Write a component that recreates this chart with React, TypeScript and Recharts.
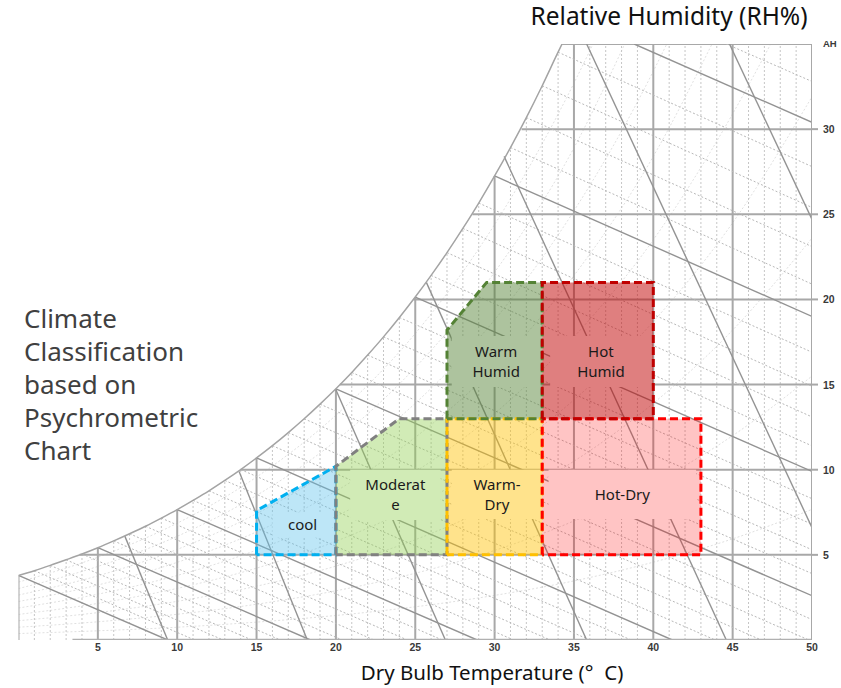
import type { ReactNode } from 'react'
import { ComposedChart, Line, Area, XAxis, YAxis, ReferenceArea } from 'recharts'

// ── Axis ticks ────────────────────────────────────────────────
const T_TICKS = [5, 10, 15, 20, 25, 30, 35, 40, 45, 50]
const AH_TICKS = [5, 10, 15, 20, 25, 30, 35]

// ── Saturation curve (100% RH), dry bulb °C → AH g/kg ─────────
const SAT_T = [0, 1, 2, 3, 4, 5, 6, 7, 8, 9, 10, 11, 12, 13, 14, 15, 16, 17, 18, 19, 20, 21, 22, 23, 24, 25, 26, 27, 28, 29, 30, 31, 32, 33, 34, 34.25]
const SAT_AH = [3.79, 4.07, 4.38, 4.71, 5.05, 5.42, 5.82, 6.24, 6.68, 7.16, 7.66, 8.2, 8.76, 9.37, 10.01, 10.69, 11.41, 12.18, 12.99, 13.85, 14.75, 15.71, 16.73, 17.8, 18.94, 20.14, 21.41, 22.75, 24.17, 25.66, 27.25, 28.92, 30.68, 32.55, 34.52, 35]

// ── Horizontal AH lines (start on the saturation curve) ───────
const H_AH = [5, 10, 15, 20, 25, 30, 35]
const H_START_T = [3.85, 14.0, 20.25, 24.9, 28.6, 31.7, 34.25]

// ── Wet bulb lines [t1, ah1, t2, ah2], one per °C ─────────────
const WB_LINES = [
  [0, 3.79, 9.4, 0], [1, 4.07, 11.1, 0], [2, 4.38, 12.9, 0], [3, 4.71, 14.7, 0], [4, 5.05, 16.5, 0],
  [5, 5.42, 18.4, 0], [6, 5.82, 20.4, 0], [7, 6.24, 22.4, 0], [8, 6.68, 24.5, 0], [9, 7.16, 26.7, 0],
  [10, 7.66, 28.9, 0], [11, 8.2, 31.2, 0], [12, 8.76, 33.5, 0], [13, 9.37, 36.0, 0], [14, 10.01, 38.6, 0],
  [15, 10.69, 41.2, 0], [16, 11.41, 43.9, 0], [17, 12.18, 46.8, 0], [18, 12.99, 49.8, 0], [19, 13.85, 50, 1.2],
  [20, 14.75, 50, 2.6], [21, 15.71, 50, 3.9], [22, 16.73, 50, 5.3], [23, 17.8, 50, 6.8], [24, 18.94, 50, 8.3],
  [25, 20.14, 50, 9.9], [26, 21.41, 50, 11.4], [27, 22.75, 50, 13.1], [28, 24.17, 50, 14.9], [29, 25.66, 50, 16.9],
  [30, 27.25, 50, 19.0], [31, 28.92, 50, 20.9], [32, 30.68, 50, 23.1], [33, 32.55, 50, 25.4], [34, 34.52, 50, 27.8],
  [38.8, 35, 50, 30.4], [44.6, 35, 50, 32.8],
]
const WB_TEMPS = [0, 1, 2, 3, 4, 5, 6, 7, 8, 9, 10, 11, 12, 13, 14, 15, 16, 17, 18, 19, 20, 21, 22, 23, 24, 25, 26, 27, 28, 29, 30, 31, 32, 33, 34, 35, 36]

// ── Specific volume lines (steep) [t1, ah1, t2, ah2] ──────────
const VOL_LINES = [
  [6.7, 6.1, 9.4, 0],
  [13.9, 9.9, 18.2, 0],
  [20.0, 14.7, 26.9, 0],
  [25.7, 21.0, 35.8, 0],
  [30.6, 28.4, 44.6, 0],
  [35.8, 35, 50, 6.6],
  [44.8, 35, 50, 24.7],
]

// ── Relative humidity curves 10% … 90% ────────────────────────
const RH_CURVES = [
  [[0, 0.38], [5, 0.54], [10, 0.75], [15, 1.05], [20, 1.44], [25, 1.95], [30, 2.62], [35, 3.47], [40, 4.57], [45, 5.94], [50, 7.67]],
  [[0, 0.75], [5, 1.07], [10, 1.51], [15, 2.1], [20, 2.89], [25, 3.92], [30, 5.26], [35, 6.99], [40, 9.2], [45, 12.0], [50, 15.5]],
  [[0, 1.13], [5, 1.61], [10, 2.27], [15, 3.16], [20, 4.34], [25, 5.89], [30, 7.92], [35, 10.5], [40, 13.9], [45, 18.2], [50, 23.6]],
  [[0, 1.5], [5, 2.15], [10, 3.03], [15, 4.22], [20, 5.8], [25, 7.88], [30, 10.6], [35, 14.1], [40, 18.7], [45, 24.5], [50, 31.9]],
  [[0, 1.88], [5, 2.69], [10, 3.79], [15, 5.28], [20, 7.26], [25, 9.88], [30, 13.3], [35, 17.8], [40, 23.5], [45, 30.9], [47.4, 35]],
  [[0, 2.26], [5, 3.23], [10, 4.56], [15, 6.35], [20, 8.74], [25, 11.9], [30, 16.0], [35, 21.4], [40, 28.4], [43.7, 35]],
  [[0, 2.64], [5, 3.77], [10, 5.32], [15, 7.42], [20, 10.2], [25, 13.9], [30, 18.8], [35, 25.2], [40, 33.4], [40.85, 35]],
  [[0, 3.02], [5, 4.32], [10, 6.09], [15, 8.49], [20, 11.7], [25, 16.0], [30, 21.6], [35, 28.9], [38.2, 35]],
  [[0, 3.4], [5, 4.86], [10, 6.86], [15, 9.57], [20, 13.2], [25, 18.0], [30, 24.4], [35, 32.7], [36.2, 35]],
]

// ── Climate zones ─────────────────────────────────────────────
const ZONE_NAMES = ['cool', 'Moderate', 'Warm-Dry', 'Hot-Dry', 'Warm Humid', 'Hot Humid']
const ZONE_LABELS = [['cool'], ['Moderat', 'e'], ['Warm-', 'Dry'], ['Hot-Dry'], ['Warm', 'Humid'], ['Hot', 'Humid']]
const ZONE_BASE = [5, 5, 5, 5, 13, 13]
const ZONE_T = [[15, 20], [20, 24, 27], [27, 33], [33, 43], [27, 29.5, 33], [33, 40]]
const ZONE_TOP = [[7.6, 10.2], [10.2, 13, 13], [13, 13], [13, 13], [18.2, 21, 21], [21, 21]]

const ZONE_STYLE = [
  { stroke: '#00B0F0', fill: '#5BC0EB', opacity: 0.4 },
  { stroke: '#808080', fill: '#92D050', opacity: 0.42 },
  { stroke: '#FFC000', fill: '#FFC000', opacity: 0.45 },
  { stroke: '#FF0000', fill: '#FF0000', opacity: 0.23 },
  { stroke: '#548235', fill: '#548235', opacity: 0.48 },
  { stroke: '#C00000', fill: '#C00000', opacity: 0.5 },
]
// label boxes in chart units [t1, t2, ah1, ah2]
const LABEL_BOX = [
  [16.0, 19.8, 6.0, 7.5],
  [20.9, 26.6, 7.05, 10.0],
  [27.3, 33.0, 7.1, 10.0],
  [33.4, 42.7, 7.1, 10.0],
  [27.3, 32.9, 14.86, 17.85],
  [33.5, 39.9, 14.86, 17.85],
]

const GRID_MAJOR = '#a8a8a8'
const GRID_MINOR = '#c6c6c6'
const GRID_DIAG = '#939393'
const TICK_FONT = { fontFamily: '"Liberation Sans", Arial, sans-serif', fontWeight: 700, fontSize: 10.5, fill: '#3a3a3a' }
const TEXT_FONT = '"Noto Sans", "Open Sans", sans-serif'

const W = 841
const H = 688
const PLOT_MARGIN = { top: 44, right: 29, bottom: 48, left: 18.5 }

const seg = (t1: number, a1: number, t2: number, a2: number) => [
  { t: t1, ah: a1 },
  { t: t2, ah: a2 },
]

function AhTick(props: any) {
  const { x, y, payload } = props
  if (payload.value === 35) {
    return (
      <text x={x} y={y} dy={3} {...TICK_FONT} fontSize={9.5}>
        AH
      </text>
    )
  }
  return (
    <g>
      <line x1={x - 11} x2={x - 5} y1={y} y2={y} stroke={GRID_MAJOR} strokeWidth={2} />
      <text x={x} y={y} dy={4} {...TICK_FONT}>
        {payload.value}
      </text>
    </g>
  )
}

const zoneLabel = (lines: string[]) => (props: any) => {
  const vb = props.viewBox
  if (!vb) return null
  const cx = vb.x + vb.width / 2
  const cy = vb.y + vb.height / 2
  const first = cy - ((lines.length - 1) * 20) / 2
  return (
    <text textAnchor="middle" fontFamily={TEXT_FONT} fontSize={15} fill="#1a1a1a">
      {lines.map((l, i) => (
        <tspan key={i} x={cx} y={first + i * 20} dy="0.35em">
          {l}
        </tspan>
      ))}
    </text>
  )
}

function gridLine(key: string, data: { t: number; ah: number }[], stroke: string, width: number, dash?: string, type: 'linear' | 'monotone' = 'linear') {
  return (
    <Line
      key={key}
      data={data}
      dataKey="ah"
      type={type}
      stroke={stroke}
      strokeWidth={width}
      strokeDasharray={dash}
      dot={false}
      activeDot={false}
      legendType="none"
      isAnimationActive={false}
    />
  )
}

// overlay layer sharing the same scales as the base chart
function Layer({ children }: { children: ReactNode }) {
  return (
    <div style={{ position: 'absolute', left: 0, top: 0 }}>
      <ComposedChart width={W} height={H} margin={PLOT_MARGIN}>
        <XAxis dataKey="t" type="number" domain={[0, 50]} allowDataOverflow hide />
        <YAxis type="number" domain={[0, 35]} allowDataOverflow hide />
        {children}
      </ComposedChart>
    </div>
  )
}

export default function App() {
  const verticals = []
  for (let t = 0; t <= 50; t++) {
    const top = t < SAT_AH.length - 1 ? SAT_AH[t] : 35
    const major = t % 5 === 0
    verticals.push(
      gridLine(`v${t}`, seg(t, 0, t, top), major ? GRID_MAJOR : GRID_MINOR, major ? 2 : 1, major ? undefined : '2 2'),
    )
  }

  const horizontals = H_AH.map((ah, i) => gridLine(`h${ah}`, seg(H_START_T[i], ah, 50, ah), GRID_MAJOR, 2))

  const wetBulb = WB_LINES.map((l, i) => {
    const solid = WB_TEMPS[i] % 5 === 0
    return gridLine(`wb${i}`, seg(l[0], l[1], l[2], l[3]), solid ? GRID_DIAG : '#b8b8b8', solid ? 1.4 : 1, solid ? undefined : '2 2')
  })

  const volume = VOL_LINES.map((l, i) => gridLine(`vol${i}`, seg(l[0], l[1], l[2], l[3]), GRID_DIAG, 1.4))

  const rh = RH_CURVES.map((c, i) =>
    gridLine(`rh${i}`, c.map(([t, ah]) => ({ t, ah })), '#e0e0e0', 1, '2 2', 'monotone'),
  )

  const satData = SAT_T.map((t, i) => ({ t, ah: SAT_AH[i] }))

  return (
    <div style={{ position: 'absolute', left: 0, top: 0, width: W, height: H, background: '#fff' }}>
      {/* base: psychrometric grid */}
      <div style={{ position: 'absolute', left: 0, top: 0 }}>
        <ComposedChart width={W} height={H} margin={{ top: 44, right: 0, bottom: 28, left: 18.5 }}>
          <XAxis
            dataKey="t"
            type="number"
            domain={[0, 50]}
            allowDataOverflow
            ticks={T_TICKS}
            tick={TICK_FONT}
            tickLine={false}
            axisLine={false}
            tickSize={2}
            tickMargin={2}
            height={20}
          />
          <YAxis
            type="number"
            orientation="right"
            domain={[0, 35]}
            allowDataOverflow
            ticks={AH_TICKS}
            tick={<AhTick />}
            tickLine={false}
            axisLine={false}
            tickSize={6}
            tickMargin={5}
            width={29}
          />
          {rh}
          {verticals}
          {horizontals}
          {wetBulb}
          {volume}
          {gridLine('sat', satData, '#a4a4a4', 1.5, undefined, 'monotone')}
          {gridLine('bottom', seg(3.4, 0, 50, 0), '#b0b0b0', 2.5)}
          {gridLine('right', seg(50, 0, 50, 35), GRID_MAJOR, 2)}
        </ComposedChart>
      </div>

      {/* opaque white boxes behind the zone labels hide the grid */}
      <Layer>
        {ZONE_NAMES.map((name, z) => (
          <Area
            key={`box-${name}`}
            data={seg(LABEL_BOX[z][0], LABEL_BOX[z][3], LABEL_BOX[z][1], LABEL_BOX[z][3])}
            dataKey="ah"
            type="linear"
            baseValue={LABEL_BOX[z][2]}
            stroke="none"
            fill="#ffffff"
            fillOpacity={1}
            dot={false}
            activeDot={false}
            legendType="none"
            isAnimationActive={false}
          />
        ))}
      </Layer>

      {/* zones: translucent fills and dashed borders */}
      <Layer>
        {ZONE_NAMES.map((name, z) => (
          <Area
            key={`fill-${name}`}
            data={ZONE_T[z].map((t, i) => ({ t, ah: ZONE_TOP[z][i] }))}
            dataKey="ah"
            type="linear"
            baseValue={ZONE_BASE[z]}
            stroke="none"
            fill={ZONE_STYLE[z].fill}
            fillOpacity={ZONE_STYLE[z].opacity}
            dot={false}
            activeDot={false}
            legendType="none"
            isAnimationActive={false}
          />
        ))}
        {ZONE_NAMES.map((name, z) => {
          const ts = ZONE_T[z]
          const base = ZONE_BASE[z]
          const pts = [
            { t: ts[0], ah: base },
            ...ts.map((t, i) => ({ t, ah: ZONE_TOP[z][i] })),
            { t: ts[ts.length - 1], ah: base },
            { t: ts[0], ah: base },
          ]
          return (
            <Line
              key={`edge-${name}`}
              data={pts}
              dataKey="ah"
              type="linear"
              stroke={ZONE_STYLE[z].stroke}
              strokeWidth={3}
              strokeDasharray="8 4"
              dot={false}
              activeDot={false}
              legendType="none"
              isAnimationActive={false}
            />
          )
        })}
      </Layer>

      {/* zone names */}
      <Layer>
        {ZONE_NAMES.map((name, z) => (
          <ReferenceArea
            key={`label-${name}`}
            x1={LABEL_BOX[z][0]}
            x2={LABEL_BOX[z][1]}
            y1={LABEL_BOX[z][2]}
            y2={LABEL_BOX[z][3]}
            fill="none"
            stroke="none"
            label={zoneLabel(ZONE_LABELS[z])}
          />
        ))}
      </Layer>

      <svg width={W} height={H} style={{ position: 'absolute', left: 0, top: 0, pointerEvents: 'none' }}>
        <text x={669} y={25} textAnchor="middle" fontFamily={TEXT_FONT} fontSize={24.5} fill="#111">
          Relative Humidity (RH%)
        </text>
        <text x={492} y={680} textAnchor="middle" fontFamily={TEXT_FONT} fontSize={20.5} fill="#111">
          Dry Bulb Temperature (°{'\u00A0\u00A0'}C)
        </text>
        <text fontFamily={TEXT_FONT} fontSize={26} fill="#404040">
          <tspan x={24} y={328}>Climate</tspan>
          <tspan x={24} y={361}>Classification</tspan>
          <tspan x={24} y={394}>based on</tspan>
          <tspan x={24} y={427}>Psychrometric</tspan>
          <tspan x={24} y={460}>Chart</tspan>
        </text>
      </svg>
    </div>
  )
}
